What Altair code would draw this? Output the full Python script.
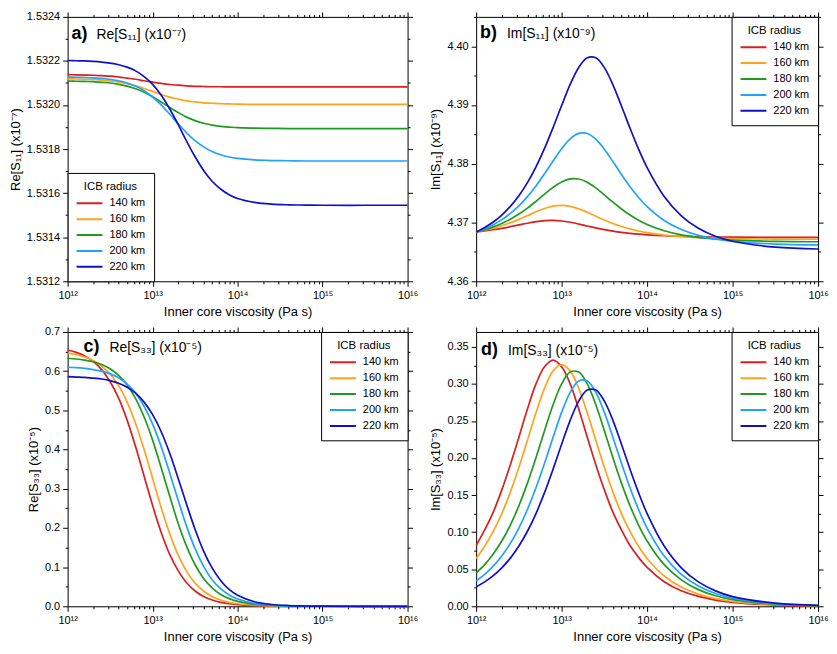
import json
import altair as alt
import pandas as pd

# ---------------- data ----------------
LOG_VISC = [12.0, 12.1, 12.2, 12.3, 12.4, 12.5, 12.6, 12.7, 12.8, 12.9,
            13.0, 13.1, 13.2, 13.3, 13.4, 13.5, 13.6, 13.7, 13.8, 13.9,
            14.0, 14.2, 14.4, 14.6, 14.8, 15.0, 15.5, 16.0]

RADII = ["140 km", "160 km", "180 km", "200 km", "220 km"]
COLORS = ["#dc1e1e", "#ffa31a", "#1e9b1e", "#1fa3ff", "#1010c8"]

RE_S11_140 = [1.532138, 1.532137, 1.532136, 1.532135, 1.532133, 1.532131, 1.532127, 1.532122, 1.532117, 1.532110,
              1.532104, 1.532098, 1.532093, 1.532090, 1.532087, 1.532085, 1.532084, 1.532083, 1.532083, 1.532082,
              1.532082, 1.532082, 1.532082, 1.532082, 1.532082, 1.532082, 1.532082, 1.532082]
RE_S11_160 = [1.532119, 1.532118, 1.532117, 1.532116, 1.532113, 1.532109, 1.532104, 1.532097, 1.532087, 1.532075,
              1.532062, 1.532048, 1.532036, 1.532027, 1.532019, 1.532014, 1.532010, 1.532008, 1.532006, 1.532005,
              1.532004, 1.532003, 1.532003, 1.532003, 1.532003, 1.532003, 1.532003, 1.532003]
RE_S11_180 = [1.532109, 1.532108, 1.532107, 1.532106, 1.532103, 1.532100, 1.532094, 1.532086, 1.532074, 1.532058,
              1.532038, 1.532014, 1.531989, 1.531966, 1.531945, 1.531929, 1.531917, 1.531909, 1.531903, 1.531900,
              1.531897, 1.531895, 1.531894, 1.531893, 1.531893, 1.531893, 1.531893, 1.531893]
RE_S11_200 = [1.532127, 1.532126, 1.532125, 1.532123, 1.532121, 1.532116, 1.532110, 1.532100, 1.532085, 1.532065,
              1.532036, 1.532001, 1.531959, 1.531915, 1.531874, 1.531838, 1.531810, 1.531789, 1.531774, 1.531764,
              1.531758, 1.531751, 1.531748, 1.531747, 1.531746, 1.531746, 1.531746, 1.531746]
RE_S11_220 = [1.532202, 1.532201, 1.532200, 1.532198, 1.532195, 1.532190, 1.532183, 1.532172, 1.532155, 1.532129,
              1.532094, 1.532045, 1.531983, 1.531912, 1.531836, 1.531765, 1.531703, 1.531654, 1.531619, 1.531593,
              1.531576, 1.531558, 1.531550, 1.531547, 1.531546, 1.531545, 1.531545, 1.531545]

IM_S11_140 = [4.36840, 4.36857, 4.36877, 4.36901, 4.36929, 4.36959, 4.36988, 4.37014, 4.37032, 4.37036,
              4.37026, 4.37004, 4.36974, 4.36941, 4.36908, 4.36879, 4.36854, 4.36833, 4.36816, 4.36802,
              4.36791, 4.36775, 4.36765, 4.36758, 4.36754, 4.36751, 4.36748, 4.36747]
IM_S11_160 = [4.36840, 4.36868, 4.36903, 4.36946, 4.36996, 4.37054, 4.37117, 4.37182, 4.37238, 4.37278,
              4.37291, 4.37275, 4.37233, 4.37174, 4.37108, 4.37043, 4.36984, 4.36933, 4.36891, 4.36856,
              4.36827, 4.36786, 4.36759, 4.36743, 4.36732, 4.36725, 4.36718, 4.36715]
IM_S11_180 = [4.36840, 4.36878, 4.36926, 4.36985, 4.37057, 4.37144, 4.37246, 4.37361, 4.37482, 4.37598,
              4.37691, 4.37743, 4.37741, 4.37685, 4.37589, 4.37470, 4.37346, 4.37230, 4.37127, 4.37039,
              4.36967, 4.36859, 4.36790, 4.36746, 4.36718, 4.36700, 4.36680, 4.36673]
IM_S11_200 = [4.36840, 4.36895, 4.36963, 4.37049, 4.37155, 4.37284, 4.37440, 4.37622, 4.37829, 4.38046,
              4.38255, 4.38423, 4.38517, 4.38516, 4.38418, 4.38247, 4.38037, 4.37817, 4.37610, 4.37426,
              4.37270, 4.37035, 4.36880, 4.36782, 4.36719, 4.36679, 4.36632, 4.36618]
IM_S11_220 = [4.36840, 4.36916, 4.37009, 4.37128, 4.37275, 4.37457, 4.37679, 4.37947, 4.38261, 4.38616,
              4.38991, 4.39351, 4.39640, 4.39804, 4.39803, 4.39636, 4.39344, 4.38983, 4.38606, 4.38250,
              4.37935, 4.37444, 4.37115, 4.36903, 4.36767, 4.36681, 4.36581, 4.36549]

RE_S33_140 = [0.654, 0.648, 0.639, 0.625, 0.604, 0.573, 0.531, 0.475, 0.407, 0.332,
              0.257, 0.189, 0.133, 0.091, 0.060, 0.039, 0.025, 0.016, 0.010, 0.0066,
              0.0042, 0.0017, 0.0007, 0.0003, 0.0001, 0.0001, 0.0, 0.0]
RE_S33_160 = [0.646, 0.642, 0.636, 0.627, 0.613, 0.593, 0.563, 0.521, 0.466, 0.400,
              0.326, 0.252, 0.186, 0.131, 0.089, 0.059, 0.039, 0.025, 0.016, 0.010,
              0.0065, 0.0026, 0.0010, 0.0004, 0.0002, 0.0001, 0.0, 0.0]
RE_S33_180 = [0.633, 0.631, 0.628, 0.624, 0.617, 0.606, 0.589, 0.565, 0.530, 0.483,
              0.424, 0.354, 0.282, 0.212, 0.153, 0.106, 0.071, 0.047, 0.030, 0.0195,
              0.0125, 0.0050, 0.0020, 0.0008, 0.0003, 0.0001, 0.0, 0.0]
RE_S33_200 = [0.610, 0.609, 0.607, 0.604, 0.600, 0.593, 0.583, 0.567, 0.544, 0.510,
              0.465, 0.408, 0.341, 0.271, 0.204, 0.147, 0.102, 0.068, 0.045, 0.029,
              0.0187, 0.0076, 0.0031, 0.0012, 0.0005, 0.0002, 0.0, 0.0]
RE_S33_220 = [0.586, 0.585, 0.584, 0.582, 0.580, 0.576, 0.569, 0.559, 0.544, 0.521,
              0.489, 0.446, 0.391, 0.327, 0.260, 0.196, 0.141, 0.098, 0.066, 0.043,
              0.028, 0.0115, 0.0046, 0.0019, 0.0008, 0.0003, 0.0, 0.0]

IM_S33_140 = [0.082, 0.103, 0.127, 0.157, 0.191, 0.228, 0.266, 0.300, 0.323, 0.332,
              0.323, 0.300, 0.266, 0.228, 0.191, 0.157, 0.127, 0.103, 0.082, 0.066,
              0.0525, 0.0332, 0.0210, 0.0133, 0.0084, 0.0053, 0.0017, 0.0005]
IM_S33_160 = [0.0645, 0.081, 0.101, 0.125, 0.154, 0.1875, 0.224, 0.261, 0.294, 0.3175,
              0.326, 0.3175, 0.294, 0.261, 0.224, 0.1875, 0.154, 0.125, 0.101, 0.081,
              0.0645, 0.0409, 0.0259, 0.0164, 0.0103, 0.0065, 0.0021, 0.0007]
IM_S33_180 = [0.0448, 0.0562, 0.0705, 0.0881, 0.1096, 0.1356, 0.1661, 0.2005, 0.2368, 0.2718,
              0.2999, 0.3159, 0.3159, 0.2999, 0.2718, 0.2368, 0.2005, 0.1661, 0.1356, 0.1096,
              0.0881, 0.0562, 0.0357, 0.0225, 0.0142, 0.0090, 0.0028, 0.0009]
IM_S33_200 = [0.0343, 0.0431, 0.0541, 0.0678, 0.0848, 0.1055, 0.1305, 0.1598, 0.1929, 0.2279,
              0.2615, 0.2886, 0.3040, 0.3040, 0.2886, 0.2615, 0.2279, 0.1929, 0.1598, 0.1305,
              0.1055, 0.0678, 0.0431, 0.0273, 0.0173, 0.0109, 0.0034, 0.0011]
IM_S33_220 = [0.0262, 0.0329, 0.0413, 0.0519, 0.0650, 0.0813, 0.1012, 0.1251, 0.1533, 0.1850,
              0.2186, 0.2508, 0.2768, 0.2916, 0.2916, 0.2768, 0.2508, 0.2186, 0.1850, 0.1533,
              0.1251, 0.0813, 0.0519, 0.0329, 0.0208, 0.0131, 0.0042, 0.0013]

# tick values / labels
X_MAJOR = [1e12, 1e13, 1e14, 1e15, 1e16]
X_LABELS = ["10¹²", "10¹³", "10¹⁴", "10¹⁵", "10¹⁶"]
X_MINOR_MULT = [2, 3, 4, 5, 6, 7, 8, 9]

Y_TICKS_A = [1.5312, 1.5313, 1.5314, 1.5315, 1.5316, 1.5317, 1.5318, 1.5319, 1.5320,
             1.5321, 1.5322, 1.5323, 1.5324]
Y_TICKS_B = [4.360, 4.365, 4.370, 4.375, 4.380, 4.385, 4.390, 4.395, 4.400, 4.405]
Y_TICKS_C = [0.0, 0.05, 0.1, 0.15, 0.2, 0.25, 0.3, 0.35, 0.4, 0.45, 0.5, 0.55, 0.6, 0.65, 0.7]
Y_TICKS_D = [0.0, 0.025, 0.05, 0.075, 0.1, 0.125, 0.15, 0.175, 0.2, 0.225, 0.25, 0.275,
             0.3, 0.325, 0.35]

FONT = "Liberation Sans"

# ---------------- helpers ----------------
X_TICKS = sorted(X_MAJOR + [m * 10.0 ** e for e in range(12, 16) for m in X_MINOR_MULT])
x_major_test = "indexof(%s, datum.value) >= 0" % json.dumps(X_MAJOR)
x_label_expr = "''"
for v, lab in reversed(list(zip(X_MAJOR, X_LABELS))):
    x_label_expr = "datum.value == %.0f ? '%s' : (%s)" % (v, lab, x_label_expr)


def tick_size(test, major=5, minor=2.5):
    return {"condition": {"test": test, "value": major}, "value": minor}


def make_df(series):
    rows = []
    for r, vals in zip(RADII, series):
        for lx, v in zip(LOG_VISC, vals):
            rows.append({"visc": 10.0 ** lx, "val": v, "radius": r})
    return pd.DataFrame(rows)


def panel(series, ytitle, ydom, yticks, ymult, yfmt, tag, label, tag_dx, text_dx,
          base_y, legend_orient, w, h):
    df = make_df(series)
    y_test = "round(datum.value * %d) %% 2 == 0" % ymult
    xscale = alt.Scale(type="log", domain=[1e12, 1e16], nice=False)
    yscale = alt.Scale(domain=ydom, nice=False, zero=False)

    lines = alt.Chart(df).mark_line(strokeWidth=1.7, interpolate="catmull-rom").encode(
        x=alt.X("visc:Q", scale=xscale,
                axis=alt.Axis(orient="bottom", values=X_TICKS, labelExpr=x_label_expr,
                              tickSize=tick_size(x_major_test), labelOverlap=False,
                              labelFlush=False, labelBound=False, labelPadding=3,
                              title="Inner core viscosity (Pa s)", titlePadding=5)),
        y=alt.Y("val:Q", scale=yscale,
                axis=alt.Axis(orient="left", values=yticks,
                              labelExpr="%s ? format(datum.value, '%s') : ''" % (y_test, yfmt),
                              tickSize=tick_size(y_test), labelOverlap=False,
                              labelFlush=False, labelBound=False, labelPadding=3,
                              title=ytitle, titlePadding=4)),
        color=alt.Color("radius:N", scale=alt.Scale(domain=RADII, range=COLORS),
                        legend=alt.Legend(title="ICB radius", orient=legend_orient)),
    )

    frame_axes = alt.Chart(df).mark_point(opacity=0).encode(
        x=alt.X("visc:Q", scale=xscale,
                axis=alt.Axis(orient="top", values=X_TICKS, labels=False,
                              tickSize=tick_size(x_major_test), title=None)),
        y=alt.Y("val:Q", scale=yscale,
                axis=alt.Axis(orient="right", values=yticks, labels=False,
                              tickSize=tick_size(y_test), title=None)),
    )

    tag_txt = alt.Chart(pd.DataFrame({"t": [tag]})).mark_text(
        font=FONT, fontSize=18, fontWeight="bold", align="left", baseline="alphabetic",
        color="black").encode(x=alt.value(tag_dx), y=alt.value(base_y), text="t:N")
    lab_txt = alt.Chart(pd.DataFrame({"t": [label]})).mark_text(
        font=FONT, fontSize=14, align="left", baseline="alphabetic",
        color="black").encode(x=alt.value(text_dx), y=alt.value(base_y), text="t:N")

    return alt.layer(lines, frame_axes, tag_txt, lab_txt).resolve_axis(
        x="independent", y="independent").properties(width=w, height=h)


H1 = 266
H2 = 276
pa = panel([RE_S11_140, RE_S11_160, RE_S11_180, RE_S11_200, RE_S11_220],
           "Re[S₁₁] (x10⁻⁷)", [1.5312, 1.5324], Y_TICKS_A, 10000, ".4f",
           "a)", "Re[S₁₁] (x10⁻⁷)", 4, 29, 22, "bottom-left", 342, H1)
pb = panel([IM_S11_140, IM_S11_160, IM_S11_180, IM_S11_200, IM_S11_220],
           "Im[S₁₁] (x10⁻⁹)", [4.36, 4.405], Y_TICKS_B, 200, ".2f",
           "b)", "Im[S₁₁] (x10⁻⁹)", 4, 31, 21, "top-right", 344, H1)
pc = panel([RE_S33_140, RE_S33_160, RE_S33_180, RE_S33_200, RE_S33_220],
           "Re[S₃₃] (x10⁻⁵)", [0.0, 0.7], Y_TICKS_C, 20, ".1f",
           "c)", "Re[S₃₃] (x10⁻⁵)", 16, 42, 20, "top-right", 342, H2)
pd_ = panel([IM_S33_140, IM_S33_160, IM_S33_180, IM_S33_200, IM_S33_220],
            "Im[S₃₃] (x10⁻⁵)", [0.0, 0.37], Y_TICKS_D, 40, ".2f",
            "d)", "Im[S₃₃] (x10⁻⁵)", 5, 32, 23, "top-right", 344, H2)

chart = alt.ConcatChart(
    concat=[pa, pb, pc, pd_], columns=2, spacing={"row": 51, "column": 69}, bounds="flush"
).resolve_scale(color="independent").properties(
    padding={"left": 0, "top": 0, "right": 0, "bottom": 0}
).configure(font=FONT).configure_view(
    stroke="black", strokeWidth=1
).configure_axis(
    labelFont=FONT, labelFontSize=11, labelColor="black",
    titleFont=FONT, titleFontSize=13, titleFontWeight="normal", titleColor="black",
    tickColor="black", tickWidth=1, grid=False, domain=False
).configure_legend(
    titleFont=FONT, titleFontSize=11.5, titleFontWeight="normal", titleColor="black",
    labelFont=FONT, labelFontSize=11, labelColor="black",
    strokeColor="black", strokeWidth=1, fillColor="white", padding=8, offset=0,
    symbolType="stroke", symbolSize=676, symbolStrokeWidth=2, clipHeight=12,
    rowPadding=4, labelOffset=6, titleAnchor="middle", titlePadding=5
)

chart.save("out.html", embed_options={"renderer": "svg", "actions": False})
